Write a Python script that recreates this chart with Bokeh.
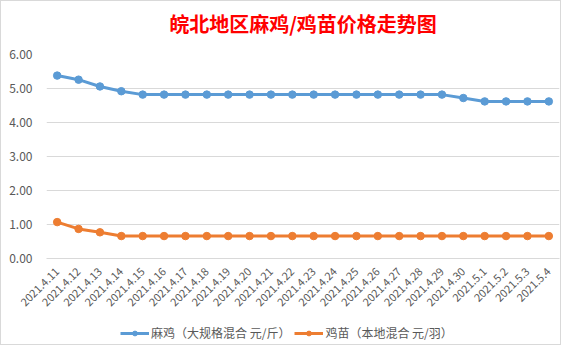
from math import pi
from bokeh.plotting import figure
from bokeh.layouts import column
from bokeh.models import (ColumnDataSource, FactorRange, Range1d, NumeralTickFormatter,
                          FixedTicker, Legend, LegendItem, Title)
from bokeh.embed import file_html
from bokeh.resources import INLINE

dates = ["2021.4.11", "2021.4.12", "2021.4.13", "2021.4.14", "2021.4.15", "2021.4.16",
         "2021.4.17", "2021.4.18", "2021.4.19", "2021.4.20", "2021.4.21", "2021.4.22",
         "2021.4.23", "2021.4.24", "2021.4.25", "2021.4.26", "2021.4.27", "2021.4.28",
         "2021.4.29", "2021.4.30", "2021.5.1", "2021.5.2", "2021.5.3", "2021.5.4"]
maji = [5.38, 5.26, 5.06, 4.92, 4.82, 4.82, 4.82, 4.82, 4.82, 4.82, 4.82, 4.82,
        4.82, 4.82, 4.82, 4.82, 4.82, 4.82, 4.82, 4.72, 4.62, 4.62, 4.62, 4.62]
jimiao = [1.07, 0.87, 0.77, 0.66, 0.66, 0.66, 0.66, 0.66, 0.66, 0.66, 0.66, 0.66,
          0.66, 0.66, 0.66, 0.66, 0.66, 0.66, 0.66, 0.66, 0.66, 0.66, 0.66, 0.66]
series_names = ["麻鸡（大规格混合 元/斤）", "鸡苗（本地混合 元/羽）"]
title_text = "皖北地区麻鸡/鸡苗价格走势图"
y_ticks = [0, 1, 2, 3, 4, 5, 6]

src = ColumnDataSource(dict(x=dates, a=maji, b=jimiao))

FONT = "Noto Sans CJK SC"
GREY = "#595959"
BLUE = "#5B9BD5"
ORANGE = "#ED7D31"

W = 559


def blank(height):
    f = figure(width=W, height=height, output_backend="svg", toolbar_location=None,
               x_range=FactorRange(*dates, range_padding=0), y_range=Range1d(100, 101),
               x_axis_location=None, y_axis_location=None)
    f.min_border = 0
    f.outline_line_color = None
    f.grid.visible = False
    f.background_fill_color = "white"
    f.border_fill_color = "white"
    return f


# title strip
tp = blank(40)
tp.min_border_top = 36
tp.title = Title(text=title_text, text_color="#FF0000", text_font=FONT,
                 text_font_size="20px", text_font_style="bold", align="center",
                 offset=7, standoff=0)

# main chart
p = figure(width=W, height=277, output_backend="svg", toolbar_location=None,
           x_range=FactorRange(*dates, range_padding=0), y_range=Range1d(0, 6))
p.min_border_left = 45
p.min_border_right = 1
p.min_border_top = 13
p.min_border_bottom = 60
p.outline_line_color = None
p.background_fill_color = "white"
p.border_fill_color = "white"

l1 = p.line("x", "a", source=src, line_color=BLUE, line_width=3)
s1 = p.scatter("x", "a", source=src, size=7.5, fill_color=BLUE, line_color=BLUE)
l2 = p.line("x", "b", source=src, line_color=ORANGE, line_width=3)
s2 = p.scatter("x", "b", source=src, size=7.5, fill_color=ORANGE, line_color=ORANGE)

p.yaxis.ticker = FixedTicker(ticks=y_ticks)
p.yaxis.formatter = NumeralTickFormatter(format="0.00")
p.yaxis.axis_line_color = None
p.yaxis.major_tick_line_color = None
p.yaxis.minor_tick_line_color = None
p.yaxis.major_label_text_font = FONT
p.yaxis.major_label_text_font_size = "12px"
p.yaxis.major_label_text_color = GREY
p.yaxis.major_label_standoff = 8

p.xaxis.axis_line_color = "#d9d9d9"
p.xaxis.major_tick_line_color = None
p.xaxis.minor_tick_line_color = None
p.xaxis.major_label_orientation = pi / 4
p.xaxis.major_label_text_font = FONT
p.xaxis.major_label_text_font_size = "11px"
p.xaxis.major_label_text_color = GREY
p.xaxis.major_label_standoff = 5

p.xgrid.grid_line_color = None
p.ygrid.grid_line_color = "#d9d9d9"
p.ygrid.grid_line_width = 1

# legend strip: same series drawn outside its visible range, only the legend shows
lp = blank(26)
m1 = lp.line("x", "a", source=src, line_color=BLUE, line_width=3)
n1 = lp.scatter("x", "a", source=src, size=7.5, fill_color=BLUE, line_color=BLUE)
m2 = lp.line("x", "b", source=src, line_color=ORANGE, line_width=3)
n2 = lp.scatter("x", "b", source=src, size=7.5, fill_color=ORANGE, line_color=ORANGE)

legend = Legend(items=[LegendItem(label=series_names[0], renderers=[m1, n1]),
                       LegendItem(label=series_names[1], renderers=[m2, n2])],
                orientation="horizontal", location=(74, 3),
                border_line_color=None, background_fill_alpha=0,
                label_text_font=FONT, label_text_font_size="12px",
                label_text_color=GREY, glyph_width=29, glyph_height=12,
                spacing=4, padding=2, margin=0, label_standoff=2)
lp.add_layout(legend, "center")

layout = column(tp, p, lp, spacing=0, styles={"border": "1px solid #d9d9d9"})

open("out.html", "w").write(file_html(layout, INLINE))
